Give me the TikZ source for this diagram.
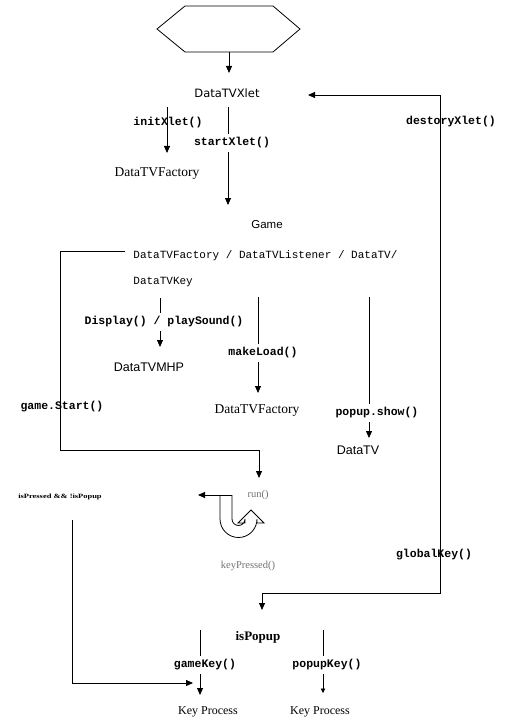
\documentclass[tikz,border=0pt]{standalone}
\usepackage{fontspec}
\setmainfont{Liberation Serif}
\newfontfamily\vsans{DejaVu Sans}
\newfontfamily\asans{Liberation Sans}
\newfontfamily\cmono{Liberation Mono}
\usetikzlibrary{arrows.meta}

\begin{document}
\begin{tikzpicture}[x=1pt,y=-1pt,
  line width=0.8pt,
  tip/.tip={Triangle[length=7pt,width=6pt]},
  arr/.style={-tip},
  smallarr/.style={-{Triangle[length=4.5pt,width=4.5pt]}},
  lbl/.style={font=\cmono\bfseries\fontsize{11.5}{12}\selectfont, inner sep=0pt},
  cut/.style={lbl, fill=white, inner xsep=1pt, inner ysep=4pt},
  code/.style={font=\cmono\fontsize{11}{12}\selectfont, inner sep=0pt, anchor=west},
  serifname/.style={font=\fontsize{13.5}{14}\selectfont, inner sep=0pt},
  sansname/.style={font=\asans\fontsize{12.5}{13}\selectfont, inner sep=0pt},
  faint/.style={font=\fontsize{10.5}{11}\selectfont, text=black!55, inner sep=0pt}
]
\path[use as bounding box] (0,0) rectangle (506,722);

% start terminal
\draw (157,29) -- (185,6) -- (273,6) -- (300,29) -- (273,52) -- (185,52) -- cycle;

% connector end points
\coordinate (hexbot) at (229,52);
\coordinate (xletin) at (229,73);
\coordinate (xletR) at (308,95);
\coordinate (brc) at (440,593);
\coordinate (popin) at (262,610);
\coordinate (initA) at (167,107);
\coordinate (initB) at (167,153);
\coordinate (startA) at (228,107);
\coordinate (startB) at (228,205);
\coordinate (loopA) at (125,251);
\coordinate (loopL) at (60,450);
\coordinate (loopB) at (259,478);
\coordinate (dispA) at (160,298);
\coordinate (dispB) at (160,347);
\coordinate (loadA) at (258,297);
\coordinate (loadB) at (258,393);
\coordinate (showA) at (369,297);
\coordinate (showB) at (369,438);
\coordinate (runA) at (232,495);
\coordinate (runB) at (198,495);
\coordinate (condA) at (72,520);
\coordinate (condB) at (193,683);
\coordinate (gkA) at (200,630);
\coordinate (gkB) at (200,695);
\coordinate (pkA) at (323,630);
\coordinate (pkB) at (323,693);

% connectors
\draw[arr] (hexbot) -- (xletin);
\draw[tip-tip] (xletR) -| (brc) -| (popin);
\draw[arr] (initA) -- (initB);
\draw[arr] (startA) -- (startB);
\draw[arr] (loopA) -| (loopL) -| (loopB);
\draw[arr] (dispA) -- (dispB);
\draw[arr] (loadA) -- (loadB);
\draw[arr] (showA) -- (showB);
\draw[arr] (runA) -- (runB);
\draw[arr] (condA) |- (condB);
\draw[arr] (gkA) -- (gkB);
\draw[smallarr] (pkA) -- (pkB);

% loop-back arrow under run()
\draw (220,495) -- (220,519) arc[start angle=180, end angle=0, radius=18.5]
  -- (257,523) -- (264,523) -- (251,510) -- (238,523) -- (245,523) -- (245,519)
  arc[start angle=0, end angle=180, radius=6.5] -- (232,495);

% texts
\node[font=\vsans\fontsize{11.5}{12}\selectfont, inner sep=0pt] (xlet) at (227,93) {DataTVXlet};
\node[lbl] (initl) at (168,123) {initXlet()};
\node[cut] (startl) at (232,143) {startXlet()};
\node[serifname] (fac1) at (157,174) {DataTVFactory};
\node[font=\asans\fontsize{11.5}{12}\selectfont, inner sep=0pt] (game) at (267,225) {Game};
\node[code] (ifaces) at (133,256) {DataTVFactory / DataTVListener / DataTV/};
\node[code] (tvkey) at (133,282) {DataTVKey};
\node[cut] (displ) at (164,322) {Display() / playSound()};
\node[cut] (loadl) at (263,353) {makeLoad()};
\node[sansname] (mhp) at (149,367) {DataTVMHP};
\node[lbl] (startg) at (62,407) {game.Start()};
\node[serifname] (fac2) at (257,411) {DataTVFactory};
\node[cut] (showl) at (377,413) {popup.show()};
\node[sansname] (tv) at (358,450) {DataTV};
\node[inner sep=0pt, font=\bfseries\fontsize{6.5}{7}\selectfont] (cond) at (60,497) {\scalebox{1.3}[1]{isPressed \&\& !isPopup}};
\node[faint] (run) at (258,495) {run()};
\node[faint] (keyp) at (248,566) {keyPressed()};
\node[lbl] (destl) at (451,122) {destoryXlet()};
\node[lbl] (globl) at (434,555) {globalKey()};
\node[font=\bfseries\fontsize{13}{14}\selectfont, inner sep=0pt] (ispop) at (258,637) {isPopup};
\node[cut] (gamek) at (205,665) {gameKey()};
\node[cut] (popk) at (327,665) {popupKey()};
\node[font=\fontsize{12}{13}\selectfont, inner sep=0pt] (kp1) at (208,712) {Key Process};
\node[font=\fontsize{12}{13}\selectfont, inner sep=0pt] (kp2) at (320,712) {Key Process};
\end{tikzpicture}
\end{document}
